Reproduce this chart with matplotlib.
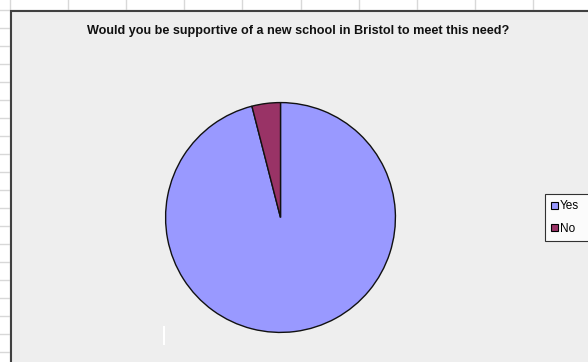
import matplotlib.pyplot as plt
import numpy as np
from matplotlib.patches import Rectangle

labels = ["Yes", "No"]
shares = [96, 4]
colours = ["#9999FF", "#993366"]
title = "Would you be supportive of a new school in Bristol to meet this need?"

W, H = 588, 362
fig = plt.figure(figsize=(W / 100, H / 100), dpi=100)

# worksheet cells behind the chart
bg = fig.add_axes([0, 0, 1, 1])
bg.set_xlim(0, W)
bg.set_ylim(H, 0)
bg.axis("off")
for x in np.arange(10, W, 58.1):
    bg.plot([x, x], [0, H], color="#d8d8d8", lw=1)
for y in np.arange(10, H, 18.0):
    bg.plot([0, W], [y, y], color="#d8d8d8", lw=1)

# chart area
bg.add_patch(Rectangle((10.5, 10.5), W, H, facecolor="#eeeeee",
                       edgecolor="#404040", lw=1.5, zorder=3))
bg.text(298, 31, title, ha="center", va="center", fontsize=9.1,
        fontweight="bold", color="#111111",
        family=["Liberation Sans", "DejaVu Sans"], zorder=4)
bg.plot([164, 164], [327, 344], color="white", lw=1.5, zorder=4)

# pie
ax = fig.add_axes([165 / W, (H - 333) / H, 231 / W, 231 / H])
wedges, _ = ax.pie(shares, colors=colours, startangle=90, counterclock=False,
                   wedgeprops=dict(edgecolor="#111111", linewidth=1))
ax.set_xlim(-1.005, 1.005)
ax.set_ylim(-1.005, 1.005)
ax.set_aspect("equal")

leg = fig.legend(wedges, labels, loc="upper left",
                 bbox_to_anchor=(545 / W, 1 - 242 / H, 60 / W, 48 / H),
                 mode="expand",
                 prop=dict(family=["Liberation Sans", "DejaVu Sans"], size=8.5),
                 frameon=True, fancybox=False, edgecolor="black",
                 handlelength=0.55, handleheight=0.55, handletextpad=0.15,
                 borderpad=0.55, labelspacing=0.85, borderaxespad=0)
leg.get_frame().set_linewidth(0.8)
leg.get_frame().set_facecolor("white")
for h in leg.legend_handles:
    h.set_edgecolor("black")
    h.set_linewidth(0.8)

fig.savefig("out.png", dpi=100)
